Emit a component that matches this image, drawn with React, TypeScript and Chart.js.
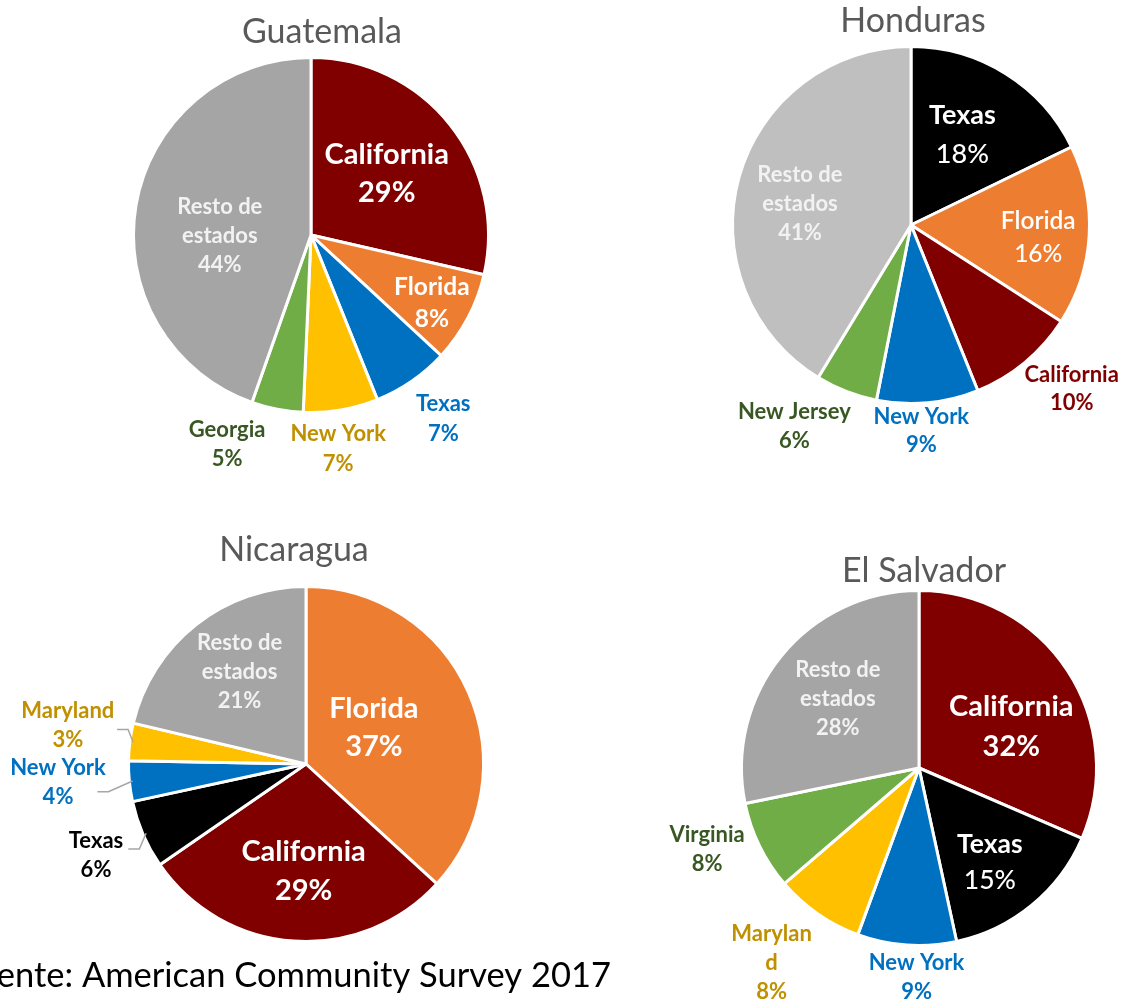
import React, { useEffect, useRef } from "react";
import { Chart, registerables } from "chart.js";

Chart.register(...registerables);

const W = 1122;
const H = 1000;
const FONT = "Lato, 'Open Sans', sans-serif";

// ---------------- Data ----------------
const countryTitles = ["Guatemala", "Honduras", "Nicaragua", "El Salvador"];

const guatemalaStates = ["California", "Florida", "Texas", "New York", "Georgia", "Resto de estados"];
const guatemalaValues = [28.6, 8.3, 7.0, 6.8, 4.7, 44.6];
const guatemalaPercents = ["29%", "8%", "7%", "7%", "5%", "44%"];

const hondurasStates = ["Texas", "Florida", "California", "New York", "New Jersey", "Resto de estados"];
const hondurasValues = [17.8, 16.3, 9.8, 9.2, 5.6, 41.3];
const hondurasPercents = ["18%", "16%", "10%", "9%", "6%", "41%"];

const nicaraguaStates = ["Florida", "California", "Texas", "New York", "Maryland", "Resto de estados"];
const nicaraguaValues = [36.8, 28.6, 6.2, 3.7, 3.4, 21.3];
const nicaraguaPercents = ["37%", "29%", "6%", "4%", "3%", "21%"];

const salvadorStates = ["California", "Texas", "New York", "Maryland", "Virginia", "Resto de estados"];
const salvadorValues = [31.5, 15.1, 9.0, 8.1, 8.1, 28.2];
const salvadorPercents = ["32%", "15%", "9%", "8%", "8%", "28%"];

const sourceNote = "Fuente: American Community Survey 2017";

// ---------------- Styles ----------------
const guatemalaColors = ["#800000", "#ED7D31", "#0070C0", "#FFC000", "#70AD47", "#A5A5A5"];
const hondurasColors = ["#000000", "#ED7D31", "#800000", "#0070C0", "#70AD47", "#BFBFBF"];
const nicaraguaColors = ["#ED7D31", "#800000", "#000000", "#0070C0", "#FFC000", "#A5A5A5"];
const salvadorColors = ["#800000", "#000000", "#0070C0", "#FFC000", "#70AD47", "#A5A5A5"];

const guatemalaTextColors = ["#FFFFFF", "#FFFFFF", "#0070C0", "#BF9000", "#385723", "#F2F2F2"];
const hondurasTextColors = ["#FFFFFF", "#FFFFFF", "#800000", "#0070C0", "#385723", "#F2F2F2"];
const nicaraguaTextColors = ["#FFFFFF", "#FFFFFF", "#000000", "#0070C0", "#BF9000", "#F2F2F2"];
const salvadorTextColors = ["#FFFFFF", "#FFFFFF", "#0070C0", "#BF9000", "#385723", "#F2F2F2"];

type LabelStyle = {
  dist: number;
  dx: number;
  dy: number;
  size: number;
  lh: number;
  nameWeight?: number;
  pctWeight?: number;
  lines?: string[];
  leader?: [number, number];
};

const RESTO_LINES = ["Resto de", "estados"];

const guatemalaLabelStyles: LabelStyle[] = [
  { dist: 0.55, dx: 0, dy: -1, size: 29, lh: 38 },
  { dist: 0.79, dx: -2, dy: 3, size: 24.5, lh: 32 },
  { dist: 1.28, dx: 4.5, dy: -2, size: 22, lh: 30 },
  { dist: 1.22, dx: -9, dy: 2, size: 22, lh: 30 },
  { dist: 1.25, dx: -42, dy: -7, size: 22, lh: 29 },
  { dist: 0.52, dx: -1, dy: 16, size: 22, lh: 29, lines: RESTO_LINES },
];

const hondurasLabelStyles: LabelStyle[] = [
  { dist: 0.59, dx: -4, dy: -2, size: 27, lh: 39, pctWeight: 500 },
  { dist: 0.72, dx: 0, dy: 5, size: 24.5, lh: 33, nameWeight: 600, pctWeight: 500 },
  { dist: 1.3, dx: 14, dy: -13, size: 22, lh: 28 },
  { dist: 1.16, dx: -9, dy: 1, size: 22, lh: 28 },
  { dist: 1.32, dx: -32, dy: -16, size: 22, lh: 29 },
  { dist: 0.64, dx: -2, dy: 9, size: 22, lh: 29, lines: RESTO_LINES },
];

const nicaraguaLabelStyles: LabelStyle[] = [
  { dist: 0.44, dx: -3, dy: -5, size: 29, lh: 38 },
  { dist: 0.61, dx: 5, dy: 0, size: 29, lh: 39 },
  { dist: 1.3, dx: 0, dy: 1, size: 22, lh: 29, leader: [32.3, -6.9] },
  { dist: 1.41, dx: -1, dy: -6, size: 22, lh: 29, leader: [39.4, 9.5] },
  { dist: 1.37, dx: 1, dy: -8, size: 22, lh: 29, leader: [49.3, 3.7] },
  { dist: 0.645, dx: 4, dy: -3, size: 22, lh: 29, lines: RESTO_LINES },
];

const salvadorLabelStyles: LabelStyle[] = [
  { dist: 0.58, dx: 7, dy: 15, size: 29, lh: 40 },
  { dist: 0.67, dx: -4, dy: 3, size: 26.5, lh: 36, pctWeight: 500 },
  { dist: 1.19, dx: 12, dy: 0, size: 22, lh: 29 },
  { dist: 1.39, dx: -8, dy: -6, size: 22, lh: 29, lines: ["Marylan", "d"] },
  { dist: 1.29, dx: -8, dy: -18, size: 22, lh: 29 },
  { dist: 0.61, dx: 2, dy: -1, size: 22, lh: 29, lines: RESTO_LINES },
];

type Layout = { cx: number; cy: number; r: number; titleX: number; titleBaseline: number };

const pieLayouts: Layout[] = [
  { cx: 311, cy: 235, r: 176, titleX: 322, titleBaseline: 42.7 },
  { cx: 911, cy: 225, r: 177, titleX: 913, titleBaseline: 32.3 },
  { cx: 306, cy: 764, r: 176, titleX: 294, titleBaseline: 560.7 },
  { cx: 919, cy: 768, r: 176, titleX: 924, titleBaseline: 581.7 },
];

type PieSpec = {
  title: string;
  states: string[];
  values: number[];
  percents: string[];
  colors: string[];
  textColors: string[];
  labelStyles: LabelStyle[];
  layout: Layout;
  footer?: boolean;
};

const pies: PieSpec[] = [
  {
    title: countryTitles[0], states: guatemalaStates, values: guatemalaValues, percents: guatemalaPercents,
    colors: guatemalaColors, textColors: guatemalaTextColors, labelStyles: guatemalaLabelStyles, layout: pieLayouts[0],
  },
  {
    title: countryTitles[1], states: hondurasStates, values: hondurasValues, percents: hondurasPercents,
    colors: hondurasColors, textColors: hondurasTextColors, labelStyles: hondurasLabelStyles, layout: pieLayouts[1],
  },
  {
    title: countryTitles[2], states: nicaraguaStates, values: nicaraguaValues, percents: nicaraguaPercents,
    colors: nicaraguaColors, textColors: nicaraguaTextColors, labelStyles: nicaraguaLabelStyles, layout: pieLayouts[2],
    footer: true,
  },
  {
    title: countryTitles[3], states: salvadorStates, values: salvadorValues, percents: salvadorPercents,
    colors: salvadorColors, textColors: salvadorTextColors, labelStyles: salvadorLabelStyles, layout: pieLayouts[3],
  },
];

const BORDER = 3;

function makeLabelPlugin(spec: PieSpec) {
  return {
    id: "pieLabels",
    afterDraw(chart: any) {
      const ctx: CanvasRenderingContext2D = chart.ctx;
      const L = spec.layout;
      ctx.save();
      // title
      ctx.fillStyle = "#595959";
      ctx.font = `400 34px ${FONT}`;
      ctx.textAlign = "center";
      ctx.textBaseline = "alphabetic";
      ctx.fillText(spec.title, L.titleX, L.titleBaseline);

      const meta = chart.getDatasetMeta(0);
      meta.data.forEach((arc: any, i: number) => {
        const p = arc.getProps(["x", "y", "startAngle", "endAngle"], true);
        const mid = (p.startAngle + p.endAngle) / 2;
        const st = spec.labelStyles[i];
        const lx = p.x + Math.cos(mid) * st.dist * L.r + st.dx;
        const ly = p.y + Math.sin(mid) * st.dist * L.r + st.dy;
        const nameLines = st.lines ?? [spec.states[i]];
        const lines = [
          ...nameLines.map((t) => ({ t, w: st.nameWeight ?? 700 })),
          { t: spec.percents[i], w: st.pctWeight ?? 700 },
        ];
        const total = (lines.length - 1) * st.lh;
        ctx.fillStyle = spec.textColors[i];
        ctx.textAlign = "center";
        ctx.textBaseline = "middle";
        lines.forEach((ln, k) => {
          ctx.font = `${ln.w} ${st.size}px ${FONT}`;
          ctx.fillText(ln.t, lx, ly - total / 2 + k * st.lh);
        });
        if (st.leader) {
          const sx = lx + st.leader[0];
          const sy = ly + st.leader[1];
          const ex = p.x + Math.cos(mid) * L.r * 0.99;
          const ey = p.y + Math.sin(mid) * L.r * 0.99;
          ctx.strokeStyle = "#A6A6A6";
          ctx.lineWidth = 1.5;
          ctx.beginPath();
          ctx.moveTo(sx, sy);
          ctx.lineTo(sx + 11, sy);
          ctx.lineTo(ex, ey);
          ctx.stroke();
        }
      });

      if (spec.footer) {
        ctx.fillStyle = "#000000";
        ctx.font = `400 34.5px ${FONT}`;
        ctx.textAlign = "right";
        ctx.textBaseline = "alphabetic";
        ctx.fillText(sourceNote, 611, 987);
      }
      ctx.restore();
    },
  };
}

function PieCanvas({ spec }: { spec: PieSpec }) {
  const ref = useRef<HTMLCanvasElement | null>(null);
  useEffect(() => {
    const L = spec.layout;
    const R = L.r + 6;
    const chart = new Chart(ref.current as HTMLCanvasElement, {
      type: "pie",
      data: {
        labels: spec.states,
        datasets: [
          {
            data: spec.values,
            backgroundColor: spec.colors,
            borderColor: "#FFFFFF",
            borderWidth: BORDER,
            radius: L.r + BORDER / 2,
          } as any,
        ],
      },
      options: {
        responsive: false,
        animation: false,
        devicePixelRatio: 1,
        events: [],
        layout: {
          padding: {
            left: L.cx - R,
            right: W - L.cx - R,
            top: L.cy - R,
            bottom: H - L.cy - R,
          },
        },
        plugins: {
          legend: { display: false },
          tooltip: { enabled: false },
        },
      },
      plugins: [makeLabelPlugin(spec)],
    });
    return () => chart.destroy();
  }, [spec]);
  return (
    <canvas
      ref={ref}
      width={W}
      height={H}
      style={{ position: "absolute", left: 0, top: 0, width: W, height: H }}
    />
  );
}

export default function App() {
  return (
    <div
      style={{
        position: "absolute",
        left: 0,
        top: 0,
        width: W,
        height: H,
        overflow: "hidden",
        background: "#FFFFFF",
      }}
    >
      {pies.map((spec) => (
        <PieCanvas key={spec.title} spec={spec} />
      ))}
    </div>
  );
}
